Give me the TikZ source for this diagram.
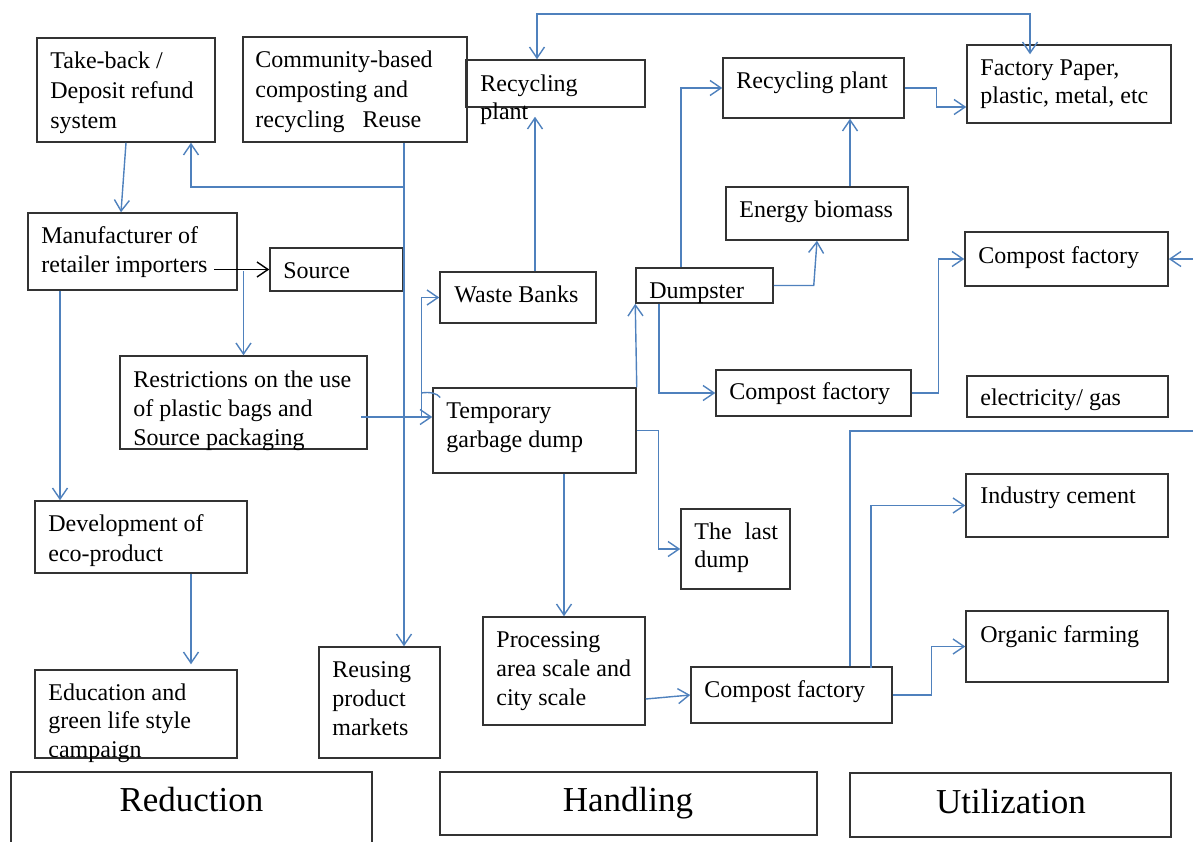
\documentclass[tikz,border=0pt]{standalone}
\usepackage{fontspec}
\setmainfont{Liberation Serif}
\usetikzlibrary{arrows.meta,fit,calc}
\definecolor{blu}{RGB}{79,129,189}
\tikzset{
 box/.style={draw=black!80, line width=0.75pt, inner sep=0pt},
 txt/.style={anchor=north west, inner sep=0pt, align=left, font=\fontsize{12}{15}\selectfont},
 hdr/.style={anchor=base, inner sep=0pt, font=\fontsize{17.5}{20}\selectfont},
 tipb/.tip={Straight Barb[length=5.5pt,width=7.5pt]},
 arr/.style={draw=blu, line width=0.7pt, -tipb},
 arrk/.style={draw=black, line width=0.7pt, -tipb},
 lin/.style={draw=blu, line width=0.7pt},
}
\newcommand\bx[5]{\node[box, fit={(#2,#3) (#4,#5)}] (#1) {};}
\newcommand\tx[5][]{\node[txt,#1] (#2) at (#3,{#4-18}) {\rule{0pt}{9pt}#5};}

\begin{document}
\begin{tikzpicture}[x=0.5pt,y=-0.5pt]
\useasboundingbox (0,0) rectangle (1193,841);

% boxes
\bx{tb}{37}{38}{215}{142}
\bx{cb}{243}{37}{467}{142}
\bx{rpl}{466}{60}{645}{107}
\bx{rpr}{723}{58}{904}{118}
\bx{fac}{967}{45}{1171}{123}
\bx{eb}{726}{187}{908}{240}
\bx{mfr}{28}{213}{237}{290}
\bx{src}{270}{248}{403}{291}
\bx{wb}{440}{272}{596}{323}
\bx{dmp}{636}{268}{773}{303}
\bx{cft}{965}{232}{1168}{286}
\bx{rst}{120}{356}{367}{449}
\bx{tmp}{433}{388}{636}{473}
\bx{cfm}{716}{370}{911}{416}
\bx{elc}{967}{376}{1168}{417}
\bx{dev}{35}{501}{247}{573}
\bx{ld}{681}{509}{790}{589}
\bx{ic}{966}{474}{1168}{537}
\bx{edu}{35}{670}{237}{758}
\bx{reu}{319}{647}{440}{758}
\bx{prc}{483}{617}{645}{725}
\bx{cfb}{691}{667}{892}{723}
\bx{org}{966}{611}{1168}{682}
\bx{red}{11}{772}{372}{860}
\bx{hnd}{440}{772}{817}{835}
\bx{utl}{850}{773}{1171}{837}

% texts
\tx{tb-t}{50}{68}{Take-back /\\Deposit refund\\system}
\tx{cb-t}{255}{67}{Community-based\\composting and\\recycling\hspace{9pt}Reuse}
\tx[font=\fontsize{12}{14}\selectfont]{rpl-t}{480}{91}{Recycling\\plant}
\tx{rpr-t}{736}{88}{Recycling plant}
\tx[font=\fontsize{12}{14}\selectfont]{fac-t}{980}{75}{Factory Paper,\\plastic, metal, etc}
\tx{eb-t}{739}{217}{Energy biomass}
\tx[font=\fontsize{12}{14.5}\selectfont]{mfr-t}{41}{243}{Manufacturer of\\retailer importers}
\tx{src-t}{283}{278}{Source}
\tx{wb-t}{454}{302}{Waste Banks}
\tx{dmp-t}{649}{298}{Dumpster}
\tx{cft-t}{978}{263}{Compost factory}
\tx[font=\fontsize{12}{14.5}\selectfont]{rst-t}{133}{387}{Restrictions on the use\\of plastic bags and\\Source packaging}
\tx[font=\fontsize{12}{14.5}\selectfont]{tmp-t}{446}{418}{Temporary\\garbage dump}
\tx{cfm-t}{729}{399}{Compost factory}
\tx{elc-t}{980}{405}{electricity/ gas}
\tx{dev-t}{48}{531}{Development of\\eco-product}
\tx[font=\fontsize{12}{14}\selectfont]{ld-t}{694}{539}{The\hspace{6.5pt}last\\dump}
\tx{ic-t}{980}{503}{Industry cement}
\tx[font=\fontsize{12}{14.25}\selectfont]{edu-t}{48}{700}{Education and\\green life style\\campaign}
\tx[font=\fontsize{12}{14.5}\selectfont]{reu-t}{332}{677}{Reusing\\product\\markets}
\tx[font=\fontsize{12}{14.5}\selectfont]{prc-t}{496}{647}{Processing\\area scale and\\city scale}
\tx{cfb-t}{704}{697}{Compost factory}
\tx{org-t}{980}{642}{Organic farming}

\node[hdr] (red-t) at (191.5,811) {Reduction};
\node[hdr] (hnd-t) at (628,811) {Handling};
\node[hdr] (utl-t) at (1011,813) {Utilization};

% connectors
\coordinate (cv) at (404,187);
\coordinate (tl) at (537,14);
\coordinate (tr) at (1030,14);
\coordinate (re1) at (1193,259);
\coordinate (re2) at (1193,431);

\draw[arr] (tb.south) -- ([xshift=-5.75pt]mfr.north);
\draw[arr] (cb.south -| cv) -- (reu.north -| cv);
\draw[arr] (cv) -| ([xshift=32.5pt]tb.south);
\draw[arrk] ($(src.west)+(-55,0)$) -- (src.west);
\draw[arr] ($(mfr.south)+(-72.5,0)$) -- ($(dev.north)+(-81,0)$);
\draw[arr] ($(rst.north)+(0,-84)$) -- (rst.north);
\draw[arr] ($(tmp.west)+(-71,-13.5)$) -- ($(tmp.west)+(0,-13.5)$);
\draw[arr] ($(tmp.west)+(-11,-13.5)$) |- (wb.west);
\draw[lin] ($(tmp.west)+(-11,-37.5)$) .. controls ($(tmp.west)+(-2,-39)$) and ($(tmp.west)+(5,-37)$) .. ($(tmp.west)+(8,-33)$);
\draw[arr] ($(wb.north)+(17,0)$) -- ($(rpl.south)+(-20.5,9)$);
\draw[draw=blu, line width=0.7pt, tipb-tipb] (tl |- rpl.north) -- (tl) -- (tr) -- ($(fac.north)+(-39,10)$);
\draw[arr] ($(dmp.north)+(-23.5,0)$) |- (rpr.west);
\draw[arr] (rpr.east) -- ++(32,0) |- ($(fac.west)+(0,23)$);
\draw[arr] ($(eb.north)+(33,0)$) -- ($(rpr.south)+(36.5,0)$);
\draw[arr] (dmp.east) -- ++(40,0) -- (eb.south);
\draw[arr] ($(dmp.south)+(-45.5,0)$) |- (cfm.west);
\draw[arr] (cfm.east) -- ++(27,0) |- (cft.west);
\draw[arr] (re1) -- (cft.east);
\draw[arr] (tmp.north east) -- (dmp.south west);
\draw[arr] (tmp.east) -- ++(22,0) |- (ld.west);
\draw[arr] (tmp.south -| prc.north) -- (prc.north);
\draw[arr] ($(prc.east)+(0,28)$) -- (cfb.west);
\draw[lin] ($(cfb.north)+(58.5,0)$) |- (re2);
\draw[arr] ($(cfb.north)+(79.5,2)$) |- (ic.west);
\draw[arr] (cfb.east) -- ++(39,0) |- (org.west);
\draw[arr] ($(dev.south)+(50,0)$) -- ($(edu.north)+(55,-5)$);
\end{tikzpicture}
\end{document}
